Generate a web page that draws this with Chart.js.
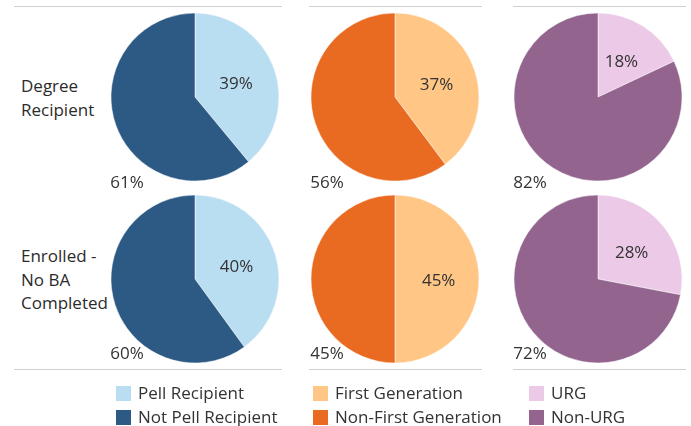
<!DOCTYPE html>
<html>
<head>
<meta charset="utf-8">
<script src="https://cdn.jsdelivr.net/npm/chart.js@4/dist/chart.umd.min.js"></script>
<style>
  html, body { margin: 0; padding: 0; background: #fff; }
  body { width: 691px; height: 426px; position: relative; overflow: hidden;
         font-family: "Open Sans", sans-serif; color: #333; }
  .pie { position: absolute; width: 200px; height: 200px; }
  .hline { position: absolute; height: 1px; background: #d0d0d0; }
  .rowlab { position: absolute; left: 21px; font-size: 17px; line-height: 23.5px; color: #2b2b2b; }
  .leg { position: absolute; font-size: 17px; line-height: 20px; color: #333; white-space: nowrap; }
  .leg span.sw { display: inline-block; width: 15px; height: 15px; vertical-align: -2px; margin-right: 7px; }
</style>
</head>
<body>
<script>
// ---- data ----
const rowLabels = [["Degree", "Recipient"], ["Enrolled -", "No BA", "Completed"]];
const groups = ["Pell", "First Generation", "URG"];
const categoriesPell = ["Pell Recipient", "Not Pell Recipient"];
const categoriesFirstGen = ["First Generation", "Non-First Generation"];
const categoriesURG = ["URG", "Non-URG"];
const pellDegree = [39, 61];
const pellEnrolled = [40, 60];
const firstGenDegree = [37, 56];
const firstGenEnrolled = [45, 45];
const urgDegree = [18, 82];
const urgEnrolled = [28, 72];

// ---- styles ----
const colorsPell = ["#b9ddf1", "#2c5a84"];
const colorsFirstGen = ["#ffc685", "#e96b22"];
const colorsURG = ["#ecc9e6", "#92648e"];

const columns = [
  { cats: categoriesPell, colors: colorsPell, rows: [pellDegree, pellEnrolled], cx: 195, legX: 116 },
  { cats: categoriesFirstGen, colors: colorsFirstGen, rows: [firstGenDegree, firstGenEnrolled], cx: 395, legX: 313 },
  { cats: categoriesURG, colors: colorsURG, rows: [urgDegree, urgEnrolled], cx: 598, legX: 529 }
];
const rowCY = [97, 278.5];
const darkLabelDY = [86, 75];
const lineSpans = [[14, 282], [309, 482], [513, 686]];

// lines
lineSpans.forEach(([a, b]) => {
  [6, 369].forEach(y => {
    const d = document.createElement('div');
    d.className = 'hline';
    d.style.left = a + 'px'; d.style.width = (b - a) + 'px'; d.style.top = y + 'px';
    document.body.appendChild(d);
  });
});

// row labels
const rowLabTop = [74, 244];
rowLabels.forEach((lines, i) => {
  const d = document.createElement('div');
  d.className = 'rowlab';
  d.style.top = rowLabTop[i] + 'px';
  d.innerHTML = lines.join('<br>');
  document.body.appendChild(d);
});

// label plugin
const pctLabels = {
  id: 'pctLabels',
  afterDatasetsDraw(chart, args, opts) {
    const ctx = chart.ctx;
    const meta = chart.getDatasetMeta(0);
    const arc0 = meta.data[0];
    const cx = arc0.x, cy = arc0.y, r = arc0.outerRadius;
    const vals = chart.data.datasets[0].data;
    ctx.save();
    ctx.font = '17px "Open Sans", sans-serif';
    ctx.fillStyle = '#333';
    ctx.textAlign = 'center';
    ctx.textBaseline = 'middle';
    // light slice label inside
    const mid = (arc0.startAngle + arc0.endAngle) / 2;
    ctx.fillText(vals[0] + '%', cx + Math.cos(mid) * r * 0.52, cy + Math.sin(mid) * r * 0.52 + 2);
    // dark slice label bottom-left
    ctx.fillText(vals[1] + '%', cx - 68, cy + opts.dy);
    ctx.restore();
  }
};

columns.forEach((col) => {
  col.rows.forEach((vals, ri) => {
    const c = document.createElement('canvas');
    c.className = 'pie';
    c.width = 200; c.height = 200;
    c.style.left = (col.cx - 100) + 'px';
    c.style.top = (rowCY[ri] - 100) + 'px';
    document.body.appendChild(c);
    new Chart(c, {
      type: 'pie',
      data: {
        labels: col.cats,
        datasets: [{ data: vals, backgroundColor: col.colors, borderColor: '#ffffff', borderWidth: 0.5 }]
      },
      options: {
        responsive: false,
        animation: false,
        radius: 84,
        layout: { padding: 0 },
        plugins: { legend: { display: false }, tooltip: { enabled: false }, pctLabels: { dy: darkLabelDY[ri] } }
      },
      plugins: [pctLabels]
    });
  });
  // legend
  col.cats.forEach((name, i) => {
    const d = document.createElement('div');
    d.className = 'leg';
    d.style.left = col.legX + 'px';
    d.style.top = (383 + i * 24) + 'px';
    d.innerHTML = '<span class="sw" style="background:' + col.colors[i] + '"></span>' + name;
    document.body.appendChild(d);
  });
});
</script>
</body>
</html>
